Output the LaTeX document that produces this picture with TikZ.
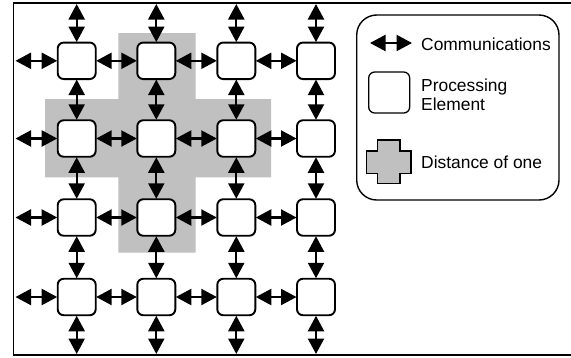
\documentclass[tikz,border=0pt]{standalone}
\usepackage{fontspec}
\setmainfont{Liberation Sans}
\usetikzlibrary{arrows.meta}
\definecolor{crossgray}{RGB}{192,192,192}
\tikzset{
  pe/.style={draw, line width=1.9pt, rounded corners=6pt, fill=white,
    minimum width=38pt, minimum height=36.5pt, inner sep=0pt, outer sep=0.5pt},
  commtip/.tip={Triangle[length=15.5pt 0 0, width=16pt 0 0]},
  comm/.style={line width=2.2pt, commtip-commtip},
  legtext/.style={font=\fontsize{17.4}{19.5}\selectfont, inner sep=0pt},
}
\begin{document}
\begin{tikzpicture}[x=1pt, y=-1pt]
\useasboundingbox (0,0) rectangle (571,357);
\clip (0,0) rectangle (571,357);
\fill[white] (0,0) rectangle (571,357);

% outer frame (right edge runs off the page)
\draw[line width=1.8pt] (13.5,2.7) rectangle (580,355);

% neighbourhood of distance one around the element in row 2, column 2
\fill[crossgray] (118.3,33) -- (195.7,33) -- (195.7,99) -- (271,99)
  -- (271,177.3) -- (195.7,177.3) -- (195.7,252.7) -- (118.3,252.7)
  -- (118.3,177.3) -- (45,177.3) -- (45,99) -- (118.3,99) -- cycle;

% processing elements
\foreach \r/\y in {1/60.8, 2/138.5, 3/217.5, 4/297} {
  \foreach \c/\x in {1/76.7, 2/156.3, 3/236.3, 4/316} {
    \node[pe] (p\r\c) at (\x,\y) {};
  }
  \coordinate (w\r) at (15.5,\y);
}
\foreach \c/\x in {1/76.7, 2/156.3, 3/236.3, 4/316} {
  \coordinate (n\c) at (\x,4);
  \coordinate (s\c) at (\x,354);
}

% communication links
\foreach \r in {1,2,3,4} {
  \draw[comm] (w\r) -- (p\r1.west);
  \draw[comm] (p\r1) -- (p\r2);
  \draw[comm] (p\r2) -- (p\r3);
  \draw[comm] (p\r3) -- (p\r4);
}
\foreach \c in {1,2,3,4} {
  \draw[comm] (n\c) -- (p1\c.north);
  \draw[comm] (p1\c) -- (p2\c);
  \draw[comm] (p2\c) -- (p3\c);
  \draw[comm] (p3\c) -- (p4\c);
  \draw[comm] (p4\c.south) -- (s\c);
}

% legend
\draw[line width=1.4pt, rounded corners=20pt] (356.7,15) rectangle (559,200);
\coordinate (la) at (370,43);
\coordinate (lb) at (412,43);
\draw[comm] (la) -- (lb);
\node[legtext, anchor=base west] (tcomm) at (421,50.5) {Communications};

\node[draw, line width=1.3pt, rounded corners=6pt, minimum width=41pt,
  minimum height=41pt, inner sep=0pt] (lpe) at (389.2,92.5) {};
\node[legtext, anchor=west, align=left] (tpe) at (421,95) {Processing\\Element};

\draw[line width=1.3pt, fill=crossgray] (377.7,140) -- (400,140) -- (400,151)
  -- (411,151) -- (411,173.3) -- (400,173.3) -- (400,183.3) -- (377.7,183.3)
  -- (377.7,173.3) -- (366.7,173.3) -- (366.7,151) -- (377.7,151) -- cycle;
\node[legtext, anchor=base west] (tdist) at (421,168.3) {Distance of one};
\end{tikzpicture}
\end{document}
